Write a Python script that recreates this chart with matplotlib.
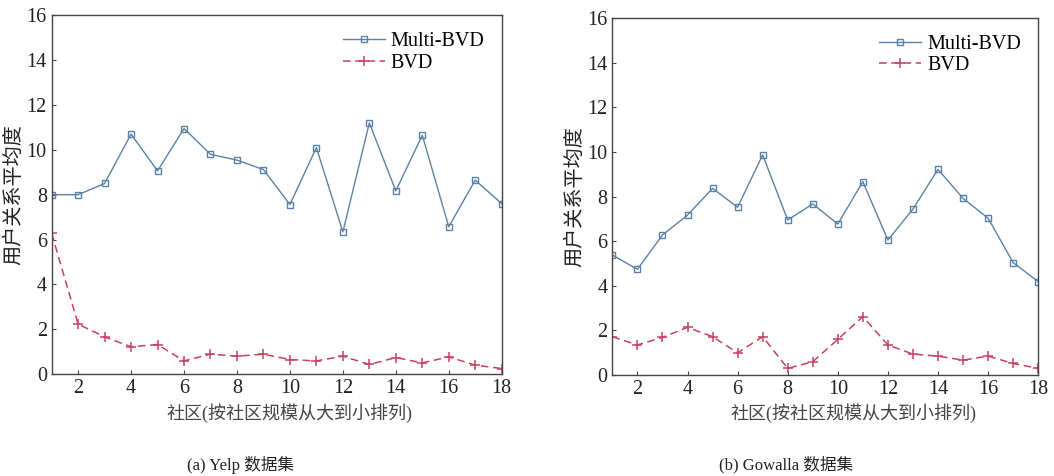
import matplotlib
matplotlib.use("Agg")
import matplotlib.pyplot as plt

plt.rcParams['font.family'] = ['Liberation Serif', 'Noto Sans CJK SC']

communities = list(range(1, 19))

yelp_multi = [8.0, 8.0, 8.5, 10.7, 9.06, 10.95, 9.8, 9.54, 9.12, 7.56,
              10.1, 6.34, 11.2, 8.17, 10.65, 6.57, 8.65, 7.6]
yelp_bvd = [6.27, 2.23, 1.66, 1.22, 1.32, 0.59, 0.89, 0.8, 0.89, 0.65,
            0.59, 0.8, 0.43, 0.74, 0.5, 0.77, 0.4, 0.25]

gowalla_multi = [5.38, 4.74, 6.28, 7.17, 8.37, 7.52, 9.87, 6.95, 7.67, 6.77,
                 8.67, 6.05, 7.44, 9.22, 7.92, 7.03, 5.04, 4.19]
gowalla_bvd = [1.72, 1.35, 1.69, 2.14, 1.72, 1.0, 1.72, 0.3, 0.6, 1.6,
               2.62, 1.35, 0.94, 0.85, 0.67, 0.85, 0.52, 0.3]

y_label = "用户关系平均度"
x_label = "社区(按社区规模从大到小排列)"
captions = ["(a) Yelp 数据集", "(b) Gowalla 数据集"]

blue = "#5a82a6"
red = "#c8415e"
spine = "#444444"

fig = plt.figure(figsize=(10.54, 4.76), dpi=100)
ax1 = fig.add_axes([0.049, 0.214, 0.427, 0.754])
ax2 = fig.add_axes([0.581, 0.212, 0.404, 0.750])

panels = [(ax1, yelp_multi, yelp_bvd, -0.06), (ax2, gowalla_multi, gowalla_bvd, -0.064)]
for ax, multi, bvd, lab_x in panels:
    ax.plot(communities, multi, color=blue, lw=1.0, marker='s', ms=5,
            mfc='none', mec=blue, mew=1.0, label="Multi-BVD")
    ax.plot(communities, bvd, color=red, lw=1.1, ls=(0, (5, 3)), marker='+',
            ms=7, mew=1.1, label="BVD")
    ax.set_xlim(1, 18)
    ax.set_ylim(0, 16)
    ax.set_xticks(range(2, 19, 2))
    ax.set_yticks(range(0, 17, 2))
    ax.tick_params(direction='in', length=3, labelsize=14.5, colors=spine,
                   labelcolor='#222222')
    for s in ax.spines.values():
        s.set_color(spine)
        s.set_linewidth(1.0)
    ax.set_ylabel(y_label, fontsize=14.5, color='#222222')
    ax.yaxis.set_label_coords(lab_x, 0.5)
    ax.legend(loc='upper right', frameon=False, fontsize=14.5,
              handlelength=2.1, handletextpad=0.3, labelspacing=0.1,
              borderaxespad=0.45)

fig.text(0.275, 0.132, x_label, ha='center', va='center', fontsize=13,
         color='#444444')
fig.text(0.81, 0.132, x_label, ha='center', va='center', fontsize=13,
         color='#444444')
fig.text(0.228, 0.023, captions[0], ha='center', va='center', fontsize=12,
         color='#222222')
fig.text(0.746, 0.023, captions[1], ha='center', va='center', fontsize=12,
         color='#222222')

fig.savefig("out.png", dpi=100)
